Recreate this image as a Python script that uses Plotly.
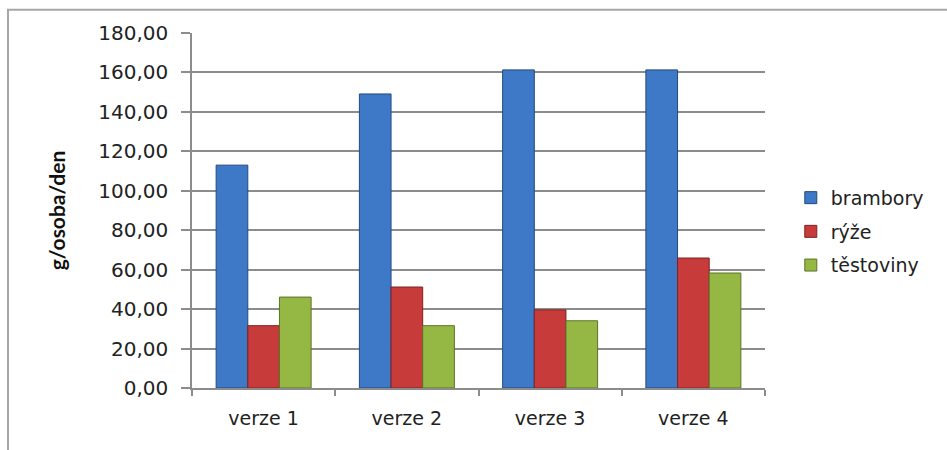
import plotly.graph_objects as go

# Daily consumption per person in four menu versions
categories = ["verze 1", "verze 2", "verze 3", "verze 4"]
brambory = [113.0, 149.1, 161.3, 161.3]
ryze = [31.6, 51.2, 39.6, 65.9]
testoviny = [46.1, 31.6, 34.1, 58.3]

series = [
    ("brambory", brambory, "#3d79c7", "#24497c"),
    ("rýže", ryze, "#c73c3a", "#7d2221"),
    ("těstoviny", testoviny, "#95b845", "#5b7326"),
]

fig = go.Figure()
for i, (name, vals, fill, edge) in enumerate(series):
    fig.add_trace(go.Bar(
        x=categories, y=vals, name=name, legendgroup=f"g{i}",
        marker=dict(color=fill, line=dict(color=edge, width=1)),
    ))

text_font = dict(family="DejaVu Sans", size=19, color="#222222")

fig.update_layout(
    width=947, height=450,
    margin=dict(l=192, r=182, t=33, b=62),
    paper_bgcolor="white", plot_bgcolor="white",
    separators=", ",
    barmode="group", bargap=0.337, bargroupgap=0,
    font=text_font,
    showlegend=True,
    legend=dict(
        x=1.045, y=0.44, xanchor="left", yanchor="middle",
        font=dict(family="DejaVu Sans", size=19, color="#222222"),
        traceorder="grouped", tracegroupgap=6,
        itemwidth=30, bgcolor="rgba(0,0,0,0)",
    ),
    xaxis=dict(
        type="category", showgrid=False, showline=True,
        linecolor="#8c8c8c", linewidth=1.5,
        ticks="outside", tickson="boundaries", ticklen=6,
        tickcolor="#8c8c8c", tickwidth=1.5,
        tickfont=text_font, ticklabelstandoff=12,
    ),
    yaxis=dict(
        range=[0, 180], dtick=20, tickformat=".2f",
        showgrid=True, gridcolor="#8c8c8c", gridwidth=1.5,
        showline=True, linecolor="#8c8c8c", linewidth=1.5,
        ticks="outside", ticklen=9, tickcolor="#8c8c8c", tickwidth=1.5,
        tickfont=dict(family="DejaVu Sans", size=20, color="#222222"),
        ticklabelstandoff=9,
        zeroline=False,
        title=dict(
            text="<b>g/osoba/den</b>",
            font=dict(family="Lato", size=21, color="#111111"),
            standoff=27,
        ),
    ),
)

# Outer chart frame
fig.add_shape(
    type="rect", xref="paper", yref="paper",
    x0=-0.3211, x1=1.33, y0=-0.2, y1=1.0656,
    line=dict(color="#a6a6a6", width=2), fillcolor="rgba(0,0,0,0)",
    layer="below",
)

fig.write_html("out.html")
